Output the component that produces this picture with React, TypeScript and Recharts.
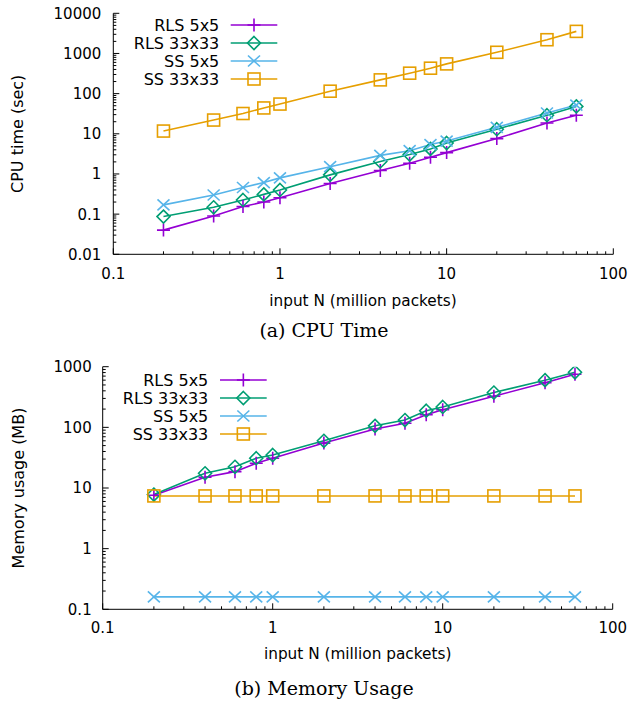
import { LineChart, Line, XAxis, YAxis, Legend } from "recharts";

// input N (million packets)
const inputN = [0.2, 0.4, 0.6, 0.8, 1, 2, 4, 6, 8, 10, 20, 40, 60];

// (a) CPU time (sec)
const cpuRls5 = [0.04, 0.09, 0.155, 0.2, 0.255, 0.58, 1.22, 1.85, 2.6, 3.4, 7.6, 18.5, 29];
const cpuRls33 = [0.087, 0.148, 0.225, 0.31, 0.4, 0.95, 2.05, 3.05, 4.2, 5.9, 13, 29, 48];
const cpuSs5 = [0.17, 0.3, 0.46, 0.61, 0.8, 1.52, 2.9, 3.8, 5.4, 6.6, 14.5, 33, 52];
const cpuSs33 = [11.7, 22, 32, 44, 55, 115, 220, 323, 430, 550, 1070, 2200, 3550];

// (b) Memory usage (MB)
const memRls5 = [7.6, 15, 18.6, 25.6, 31, 55, 94, 117, 161, 195, 325, 545, 750];
const memRls33 = [7.8, 17.5, 22.4, 31, 35, 60, 106, 132, 188, 217, 375, 600, 810];
const memSs5 = [0.16, 0.16, 0.16, 0.16, 0.16, 0.16, 0.16, 0.16, 0.16, 0.16, 0.16, 0.16, 0.16];
const memSs33 = [7.4, 7.4, 7.4, 7.4, 7.4, 7.4, 7.4, 7.4, 7.4, 7.4, 7.4, 7.4, 7.4];

const xTicks = [0.1, 1, 10, 100];
const cpuTicks = [0.01, 0.1, 1, 10, 100, 1000, 10000];
const memTicks = [0.1, 1, 10, 100, 1000];

const series = [
  { key: "rls5", name: "RLS 5x5", color: "#9400d3", marker: "plus" },
  { key: "rls33", name: "RLS 33x33", color: "#009e73", marker: "diamond" },
  { key: "ss5", name: "SS 5x5", color: "#56b4e9", marker: "cross" },
  { key: "ss33", name: "SS 33x33", color: "#e69f00", marker: "square" },
];

const cpuData = inputN.map((x, i) => ({
  x, rls5: cpuRls5[i], rls33: cpuRls33[i], ss5: cpuSs5[i], ss33: cpuSs33[i],
}));
const memData = inputN.map((x, i) => ({
  x, rls5: memRls5[i], rls33: memRls33[i], ss5: memSs5[i], ss33: memSs33[i],
}));

const SANS = "'DejaVu Sans', sans-serif";
const SERIF = "'DejaVu Serif', serif";

// decades plus the 2..9 minor ticks between them
function withMinor(decades: number[]) {
  const out: number[] = [];
  decades.forEach((d, i) => {
    out.push(d);
    if (i < decades.length - 1) for (let k = 2; k <= 9; k++) out.push(d * k);
  });
  return out;
}

function isDecade(v: number) {
  const l = Math.log10(v);
  return Math.abs(l - Math.round(l)) < 1e-6;
}

function Marker({ kind, cx, cy, color }: any) {
  if (cx == null || cy == null) return null;
  const sw = 1.6;
  if (kind === "plus") {
    return (
      <g stroke={color} strokeWidth={sw}>
        <line x1={cx - 6.5} x2={cx + 6.5} y1={cy} y2={cy} />
        <line x1={cx} x2={cx} y1={cy - 6.5} y2={cy + 6.5} />
      </g>
    );
  }
  if (kind === "diamond") {
    const p = `${cx},${cy - 6.5} ${cx + 6.5},${cy} ${cx},${cy + 6.5} ${cx - 6.5},${cy}`;
    return <polygon points={p} fill="none" stroke={color} strokeWidth={sw} />;
  }
  if (kind === "cross") {
    return (
      <g stroke={color} strokeWidth={sw}>
        <line x1={cx - 6} x2={cx + 6} y1={cy - 5.5} y2={cy + 5.5} />
        <line x1={cx - 6} x2={cx + 6} y1={cy + 5.5} y2={cy - 5.5} />
      </g>
    );
  }
  return <rect x={cx - 6} y={cy - 6} width={12} height={12} fill="none" stroke={color} strokeWidth={sw} />;
}

function XTick({ x, y, payload, side, label }: any) {
  const v = payload.value;
  const len = isDecade(v) ? 6 : 3;
  const dir = side === "bottom" ? -1 : 1;
  return (
    <g>
      <line x1={x} x2={x} y1={y} y2={y + dir * len} stroke="#000" />
      {label && isDecade(v) && (
        <text x={x} y={y + label} dy="0.36em" textAnchor="middle" fontSize={15} fontFamily={SANS} fill="#000">
          {String(v)}
        </text>
      )}
    </g>
  );
}

function YTick({ x, y, payload, side, label }: any) {
  const v = payload.value;
  const len = isDecade(v) ? 6 : 3;
  const dir = side === "left" ? 1 : -1;
  return (
    <g>
      <line x1={x} x2={x + dir * len} y1={y} y2={y} stroke="#000" />
      {label && isDecade(v) && (
        <text x={x - label} y={y} dy="0.36em" textAnchor="end" fontSize={15} fontFamily={SANS} fill="#000">
          {String(v)}
        </text>
      )}
    </g>
  );
}

function KeyBox({ textX, lineX1, lineX2, firstY }: any) {
  const mx = (lineX1 + lineX2) / 2;
  return (
    <svg width={200} height={80} style={{ display: "block" }}>
      {series.map((s, i) => {
        const y = firstY + i * 18;
        return (
          <g key={s.key}>
            <text x={textX} y={y} dy="0.36em" textAnchor="end" fontSize={16} fontFamily={SANS} fill="#000">
              {s.name}
            </text>
            <line x1={lineX1} x2={lineX2} y1={y} y2={y} stroke={s.color} strokeWidth={1.6} />
            <Marker kind={s.marker} cx={mx} cy={y} color={s.color} />
          </g>
        );
      })}
    </svg>
  );
}

function LogChart({ data, yTicks, yDomain, width, height, margin, xLabelGap, yLabelGap, legend }: any) {
  const xt = withMinor(xTicks);
  const yt = withMinor(yTicks);
  const axisLine = { stroke: "#000", strokeWidth: 1 };
  return (
    <LineChart width={width} height={height} data={data} margin={margin}>
      <XAxis
        dataKey="x" type="number" scale="log" domain={[0.1, 100]} allowDataOverflow
        ticks={xt} interval={0} tickSize={0} tickMargin={0} tickLine={false} height={30}
        axisLine={axisLine} tick={(p: any) => <XTick {...p} side="bottom" label={xLabelGap} />}
      />
      <XAxis
        xAxisId="top" orientation="top" dataKey="x" type="number" scale="log" domain={[0.1, 100]}
        allowDataOverflow ticks={xt} interval={0} tickSize={0} tickMargin={0} tickLine={false} height={0}
        axisLine={axisLine} tick={(p: any) => <XTick {...p} side="top" label={0} />}
      />
      <YAxis
        type="number" scale="log" domain={yDomain} allowDataOverflow
        ticks={yt} interval={0} tickSize={0} tickMargin={0} tickLine={false} width={60}
        axisLine={axisLine} tick={(p: any) => <YTick {...p} side="left" label={yLabelGap} />}
      />
      <YAxis
        yAxisId="right" orientation="right" type="number" scale="log" domain={yDomain} allowDataOverflow
        ticks={yt} interval={0} tickSize={0} tickMargin={0} tickLine={false} width={0}
        axisLine={axisLine} tick={(p: any) => <YTick {...p} side="right" label={0} />}
      />
      <Legend
        layout="horizontal" verticalAlign="middle" align="center"
        wrapperStyle={{ left: legend.left, top: legend.top, width: 200, height: 80 }}
        content={() => <KeyBox {...legend} />}
      />
      {series.map((s) => (
        <Line
          key={s.key} dataKey={s.key} name={s.name} stroke={s.color} strokeWidth={1.6}
          isAnimationActive={false}
          dot={(p: any) => <Marker key={`${s.key}-${p.index}`} kind={s.marker} cx={p.cx} cy={p.cy} color={s.color} />}
        />
      ))}
    </LineChart>
  );
}

export default function App() {
  return (
    <div style={{ position: "absolute", left: 0, top: 0, width: 631, height: 702, background: "#fff" }}>
      <div style={{ position: "absolute", left: 0, top: 0 }}>
        <LogChart
          data={cpuData} yTicks={cpuTicks} yDomain={[0.01, 10000]} width={631} height={290}
          margin={{ top: 13.3, right: 17.7, bottom: 5.7, left: 53.3 }}
          xLabelGap={19} yLabelGap={12}
          legend={{ left: 100, top: 14, textX: 119.3, lineX1: 130.7, lineX2: 177.3, firstY: 11 }}
        />
      </div>
      <div style={{ position: "absolute", left: 0, top: 340 }}>
        <LogChart
          data={memData} yTicks={memTicks} yDomain={[0.1, 1000]} width={631} height={300}
          margin={{ top: 26.7, right: 18.3, bottom: 0.7, left: 42.7 }}
          xLabelGap={18} yLabelGap={11}
          legend={{ left: 90, top: 28, textX: 118.3, lineX1: 130, lineX2: 176.7, firstY: 12 }}
        />
      </div>
      <svg width={631} height={702} style={{ position: "absolute", left: 0, top: 0, pointerEvents: "none" }}>
        <text x={363} y={300} dy="0.36em" textAnchor="middle" fontSize={15.3} fontFamily={SANS}>
          input N (million packets)
        </text>
        <text x={0} y={0} dy="0.36em" textAnchor="middle" fontSize={16} fontFamily={SANS}
          transform="translate(17,133.8) rotate(-90)">
          CPU time (sec)
        </text>
        <text x={324} y={336.5} textAnchor="middle" fontSize={19} fontFamily={SERIF}>
          (a) CPU Time
        </text>
        <text x={357.7} y={653.3} dy="0.36em" textAnchor="middle" fontSize={15.3} fontFamily={SANS}>
          input N (million packets)
        </text>
        <text x={0} y={0} dy="0.36em" textAnchor="middle" fontSize={16} fontFamily={SANS}
          transform="translate(18,488) rotate(-90)">
          Memory usage (MB)
        </text>
        <text x={324} y={695} textAnchor="middle" fontSize={19} fontFamily={SERIF}>
          (b) Memory Usage
        </text>
      </svg>
    </div>
  );
}
